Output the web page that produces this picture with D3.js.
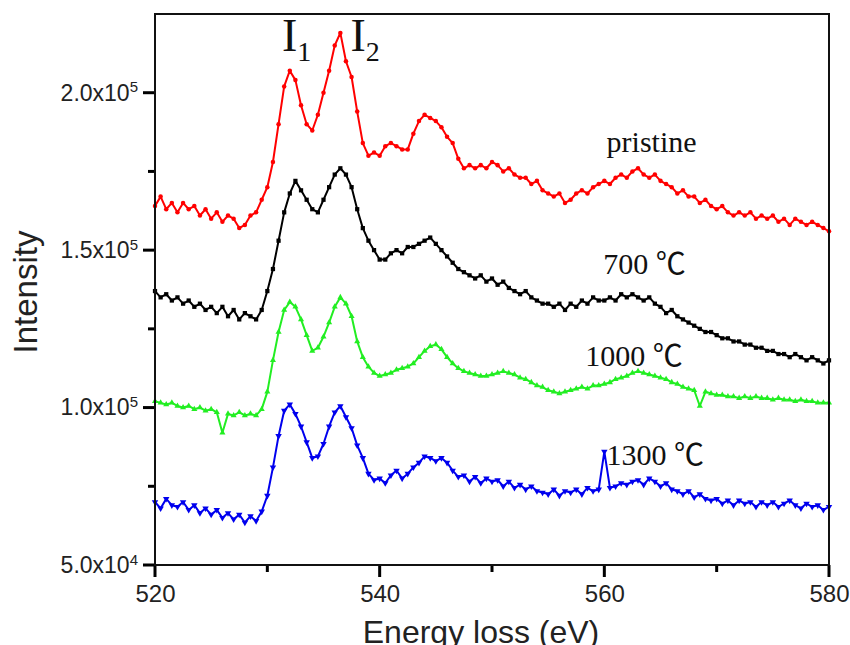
<!DOCTYPE html>
<html>
<head>
<meta charset="utf-8">
<script src="https://cdn.jsdelivr.net/npm/d3@7"></script>
<style>
  body { margin: 0; background: #fff; }
</style>
</head>
<body>
<div id="chart"></div>
<script>
// Energy grid of the spectra: 520 to 580 eV, a reading every 0.5 eV
const energyStart = 520;
const energyStep = 0.5;

// Intensities, in units of 10^3 counts (one row = 5 eV)
const pristine = [
    164, 167, 163, 165, 162, 165, 163, 164, 161, 163,
    160, 162, 159, 161, 160, 157, 158, 161, 162, 166,
    170, 178, 190, 202, 207, 204, 196, 190, 188, 193,
    200, 207, 215, 219, 210, 205, 194, 184, 180, 181,
    180, 183, 184, 183, 182, 182, 187, 191, 193, 192,
    191, 189, 186, 184, 179, 176, 177, 176, 177, 176,
    178, 177, 175, 176, 174, 173, 173, 171, 172, 169,
    168, 167, 168, 165, 166, 168, 169, 168, 170, 171,
    172, 171, 173, 174, 173, 175, 176, 174, 173, 174,
    172, 171, 170, 168, 169, 167, 167, 165, 166, 164,
    163, 164, 162, 161, 162, 161, 162, 160, 161, 160,
    161, 159, 160, 158, 160, 159, 158, 159, 158, 157,
    156
];
const t700 = [
    137, 135, 136, 134, 135, 133, 134, 132, 133, 131,
    132, 130, 132, 129, 131, 128, 130, 129, 128, 131,
    137, 144, 153, 162, 168, 172, 169, 166, 163, 162,
    166, 170, 174, 176, 174, 170, 163, 157, 153, 150,
    147, 147, 149, 150, 149, 151, 151, 152, 153, 154,
    152, 150, 148, 146, 144, 143, 142, 141, 142, 140,
    141, 139, 140, 138, 137, 136, 137, 135, 134, 133,
    133, 132, 133, 131, 133, 132, 134, 133, 135, 134,
    134, 135, 134, 136, 135, 136, 135, 134, 135, 133,
    132, 130, 131, 129, 128, 127, 126, 125, 124, 124,
    123, 122, 122, 121, 121, 120, 120, 119, 119, 118,
    118, 117, 117, 116, 117, 116, 115, 116, 115, 114,
    115
];
const t1000 = [
    102, 101.5, 101, 101.5, 100.5, 100, 100.5, 99.5, 100, 99,
    99.5, 98.5, 92, 98, 97.5, 98.5, 97.5, 98, 97.5, 99.5,
    105, 115, 124, 131, 133.5, 132, 128, 123, 118, 119,
    122.5, 127, 132, 135, 133, 129, 121, 116, 113, 111,
    110, 110.5, 111, 112, 112.5, 113, 114, 116, 118, 119.5,
    120, 118.5, 116, 114, 112.5, 111.5, 111, 110.5, 110, 110,
    110.5, 111, 111.5, 111, 110.5, 109.5, 109, 108, 107, 106.5,
    105.5, 105, 104.5, 105, 105.5, 106, 106.5, 106, 107, 107,
    107.5, 108, 109, 109.5, 110, 111, 111.5, 111, 110.5, 110,
    109.5, 109, 108, 107.5, 106.5, 106, 105.5, 100.5, 105, 104.5,
    104, 104, 103.5, 103.5, 103, 103.5, 103, 103.5, 103, 103,
    102.5, 103, 102.5, 102.5, 102, 102.5, 102, 102, 101.5, 101.5,
    101.5
];
const t1300 = [
    70, 68, 71, 69, 68.5, 70, 67.5, 69, 66.5, 68,
    66, 67.5, 65, 66.5, 64.5, 66, 63.5, 65.5, 64, 67,
    72, 81, 91, 99, 101, 98, 94, 89, 84, 84.5,
    88.5, 94, 98.5, 100.5, 97, 93.5, 88, 84, 79, 77,
    77.5, 76, 78.5, 80, 77.5, 79, 81, 82.5, 84.5, 84,
    83, 84, 82.5, 80, 78, 78.5, 76.5, 78, 76, 77.5,
    76.5, 77, 75, 76.5, 74.5, 75.5, 74, 75, 73.5, 73,
    72.5, 74, 72, 73.5, 73, 74, 72.5, 74.5, 73.5, 74,
    86, 74.5, 75, 76, 75.5, 76.5, 77, 75.5, 77.5, 76.5,
    75, 76, 74, 73.5, 72.5, 73.5, 71.5, 72.5, 71, 70.5,
    71, 69.5, 70.5, 69, 70.5, 69.5, 70, 68.5, 70, 69,
    70, 68.5, 69.5, 70.5, 69, 68, 69.5, 68.5, 69, 67.5,
    68.5
];

const seriesLabels = ["pristine", "700 \u2103", "1000 \u2103", "1300 \u2103"];
const seriesColors = ["#ff0000", "#000000", "#22ee22", "#0000ee"];
// where each label sits, in data units (eV, counts)
const labelAnchors = [[560.2, 181200], [559.9, 142400], [558.3, 113100], [560.2, 81900]];

const xTicks = [520, 540, 560, 580];
const xMinorTicks = [530, 550, 570];
const yTicks = [50000, 100000, 150000, 200000];
const yMinorTicks = [75000, 125000, 175000];

// Set the dimensions and margins of the graph
const width = 850;
const height = 645;
const margin = { top: 14, right: 21, bottom: 80, left: 155 };
const innerW = width - margin.left - margin.right;
const innerH = height - margin.top - margin.bottom;

const svg = d3.select("#chart")
    .append("svg")
    .attr("width", width)
    .attr("height", height);

const g = svg.append("g")
    .attr("transform", `translate(${margin.left},${margin.top})`);

const x = d3.scaleLinear().domain([520, 580]).range([0, innerW]);
const y = d3.scaleLinear().domain([50000, 225000]).range([innerH, 0]);

const tickFont = "'Liberation Sans', Arial, sans-serif";
const serif = "'Liberation Serif', 'Times New Roman', 'Noto Sans CJK SC', serif";
const majorLen = 12, minorLen = 7;

// Tick marks outside the frame, one line per tick value
const xTickData = xTicks.map(v => ({ v, len: majorLen })).concat(xMinorTicks.map(v => ({ v, len: minorLen })));
const yTickData = yTicks.map(v => ({ v, len: majorLen })).concat(yMinorTicks.map(v => ({ v, len: minorLen })));

g.append("g")
    .selectAll("line")
    .data(xTickData)
    .join("line")
    .attr("x1", d => x(d.v))
    .attr("x2", d => x(d.v))
    .attr("y1", innerH)
    .attr("y2", d => innerH + d.len)
    .style("stroke", "#000")
    .style("stroke-width", "3px");

g.append("g")
    .selectAll("line")
    .data(yTickData)
    .join("line")
    .attr("x1", 0)
    .attr("x2", d => -d.len)
    .attr("y1", d => y(d.v))
    .attr("y2", d => y(d.v))
    .style("stroke", "#000")
    .style("stroke-width", "3px");

// Tick labels through the D3 axes (no lines, no domain)
const xAxis = g.append("g")
    .attr("transform", `translate(0,${innerH})`)
    .call(d3.axisBottom(x).tickValues(xTicks).tickSize(0).tickPadding(20).tickFormat(d3.format("d")));

const yAxis = g.append("g")
    .call(d3.axisLeft(y).tickValues(yTicks).tickSize(0).tickPadding(17).tickFormat(""));

xAxis.select(".domain").remove();
yAxis.select(".domain").remove();

xAxis.selectAll("text")
    .style("font-family", tickFont)
    .style("font-size", "24px")
    .style("fill", "#222");

// y tick labels like 2.0x10^5
yAxis.selectAll(".tick text").each(function (d) {
    const exp = Math.floor(Math.log10(d));
    const mant = d / Math.pow(10, exp);
    const t = d3.select(this)
        .style("font-family", tickFont)
        .style("font-size", "23px")
        .style("fill", "#222");
    t.append("tspan").text(mant.toFixed(1) + "x10");
    t.append("tspan").attr("dy", "-0.55em").style("font-size", "15px").text(exp);
});

// Spectra
const allSeries = [pristine, t700, t1000, t1300];
const symbols = [d3.symbolCircle, d3.symbolSquare, d3.symbolTriangle, d3.symbolTriangle];
const symbolSizes = [16, 18, 16, 18];

const line = d3.line()
    .x((d, i) => x(energyStart + i * energyStep))
    .y(d => y(d * 1000));

allSeries.forEach((s, k) => {
    g.append("path")
        .datum(s)
        .attr("fill", "none")
        .attr("stroke", seriesColors[k])
        .attr("stroke-width", 2)
        .attr("stroke-linejoin", "round")
        .attr("d", line);

    g.append("g")
        .selectAll("path")
        .data(s)
        .join("path")
        .attr("d", d3.symbol().type(symbols[k]).size(symbolSizes[k]))
        .attr("transform", (d, i) => {
            const rot = k === 3 ? " rotate(180)" : "";
            return `translate(${x(energyStart + i * energyStep)},${y(d * 1000)})${rot}`;
        })
        .attr("fill", seriesColors[k]);
});

// Frame
g.append("rect")
    .attr("width", innerW)
    .attr("height", innerH)
    .attr("fill", "none")
    .attr("stroke", "#111")
    .attr("stroke-width", 2);

// Series labels
seriesLabels.forEach((lab, k) => {
    g.append("text")
        .attr("x", x(labelAnchors[k][0]))
        .attr("y", y(labelAnchors[k][1]))
        .style("font-family", serif)
        .style("font-size", "30px")
        .style("fill", "#111")
        .text(lab);
});

// Peak labels I1, I2
[["1", 531.3], ["2", 537.4]].forEach(([sub, e]) => {
    const t = g.append("text")
        .attr("x", x(e))
        .attr("y", y(213400))
        .style("font-family", serif)
        .style("font-size", "46px")
        .style("fill", "#111");
    t.append("tspan").text("I");
    t.append("tspan").attr("dy", 10).style("font-size", "28px").text(sub);
});

// Axis titles
svg.append("text")
    .attr("transform", "translate(37,292) rotate(-90)")
    .attr("text-anchor", "middle")
    .style("font-family", tickFont)
    .style("font-size", "33px")
    .style("fill", "#222")
    .text("Intensity");

svg.append("text")
    .attr("x", 481)
    .attr("y", 643)
    .attr("text-anchor", "middle")
    .style("font-family", tickFont)
    .style("font-size", "32px")
    .style("fill", "#222")
    .text("Energy loss (eV)");
</script>
</body>
</html>
